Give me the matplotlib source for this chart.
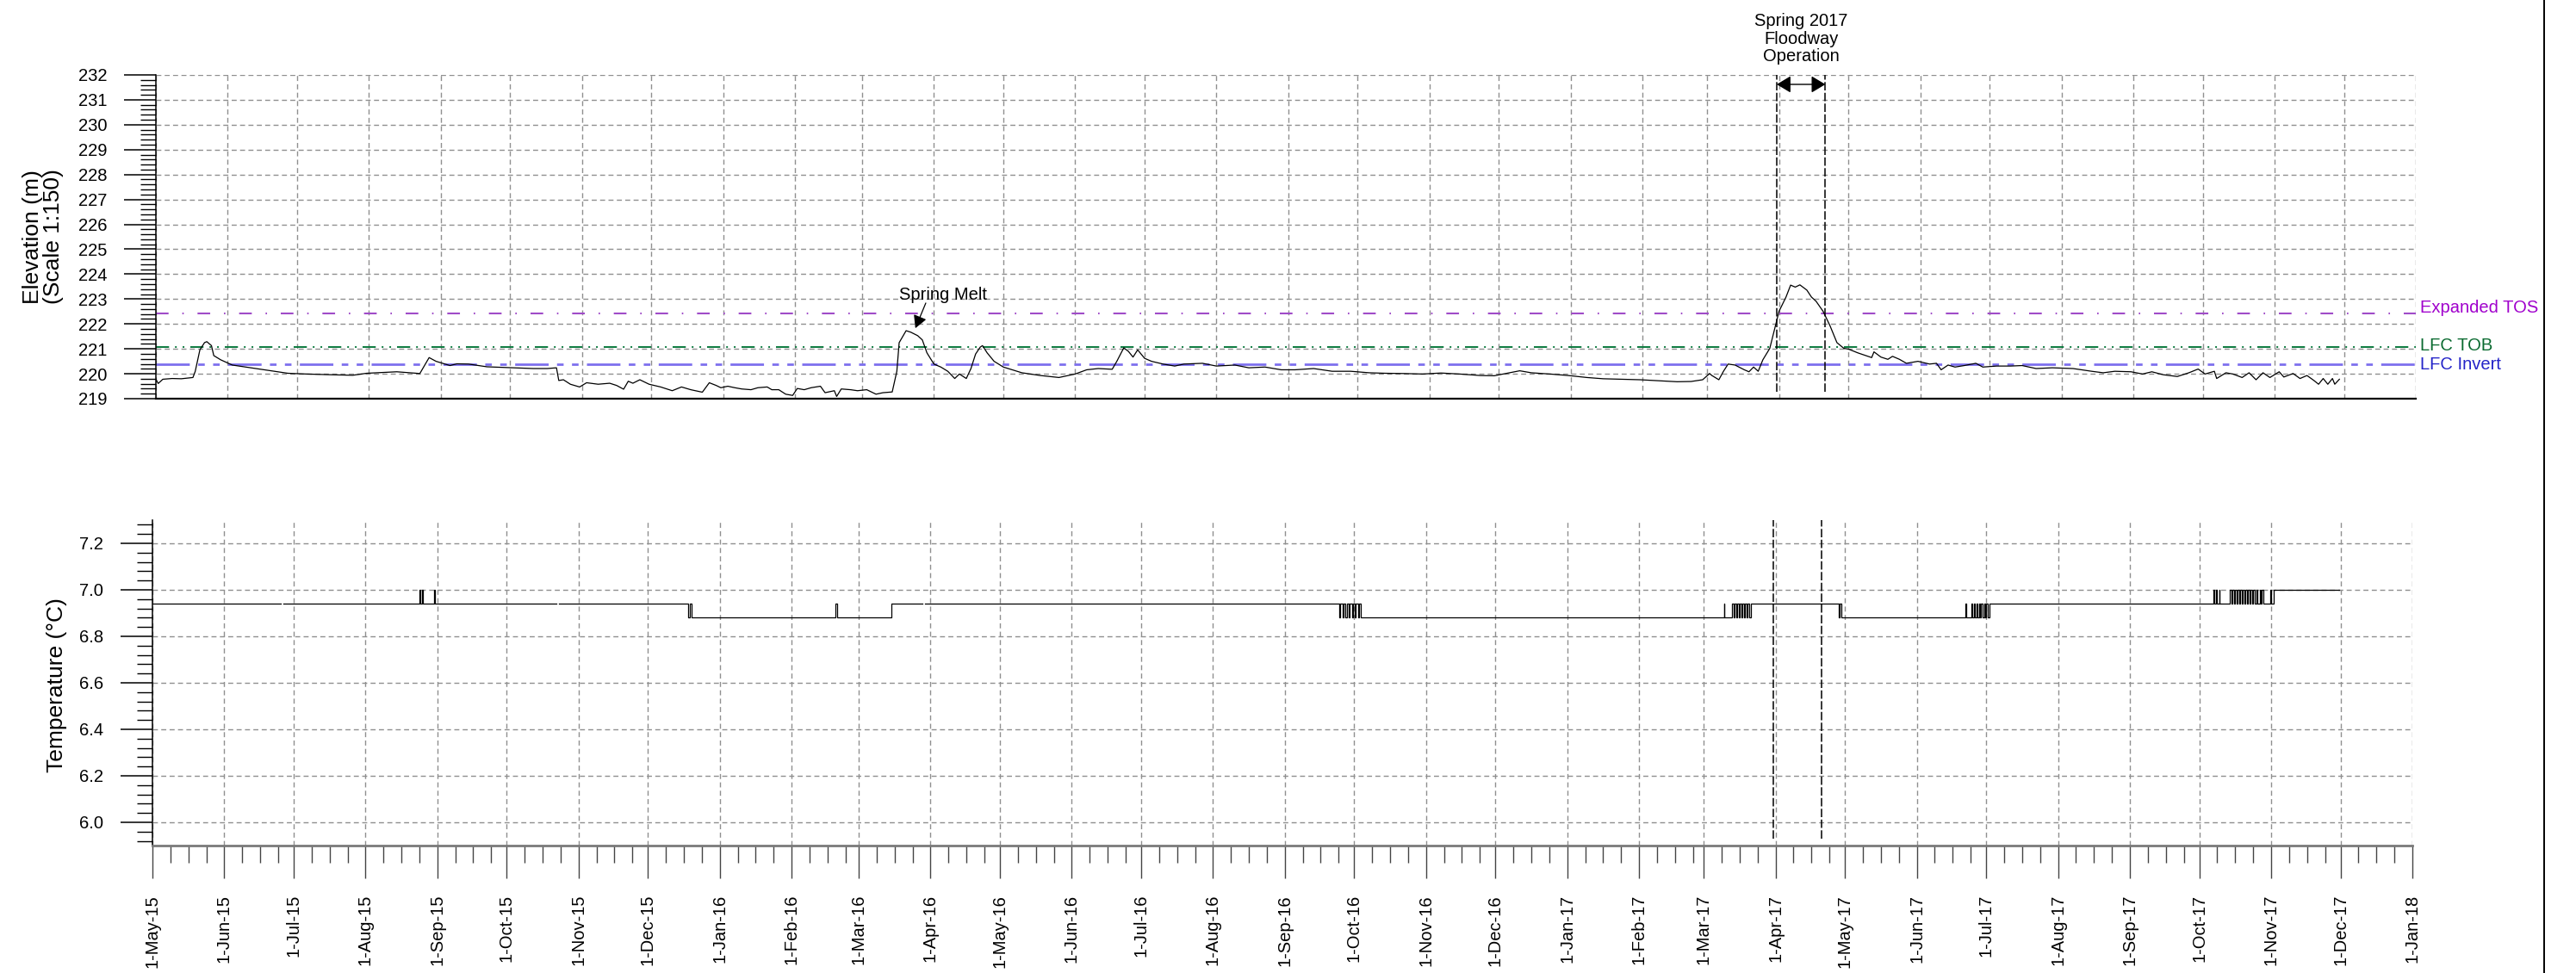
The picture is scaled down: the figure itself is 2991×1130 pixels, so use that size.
import matplotlib
matplotlib.use("Agg")
import matplotlib.pyplot as plt
import matplotlib.dates as mdates
from matplotlib.ticker import MultipleLocator, FixedLocator, FuncFormatter
from matplotlib.lines import Line2D
import numpy as np
import pandas as pd

plt.rcParams['font.family'] = ['Liberation Sans', 'DejaVu Sans']
plt.rcParams['lines.scale_dashes'] = False

# --- water level record (m) ---
elev_dates = [
    "2015-05-01", "2015-05-02", "2015-05-04", "2015-05-08", "2015-05-12", "2015-05-17", "2015-05-18",
    "2015-05-20", "2015-05-22", "2015-05-23", "2015-05-25", "2015-05-26", "2015-05-29", "2015-06-03",
    "2015-06-11", "2015-06-19", "2015-06-27", "2015-07-05", "2015-07-16", "2015-07-25", "2015-07-31",
    "2015-08-13", "2015-08-23", "2015-08-25", "2015-08-27", "2015-08-30", "2015-09-05", "2015-09-08",
    "2015-09-13", "2015-09-21", "2015-10-02", "2015-10-11", "2015-10-17", "2015-10-21", "2015-10-22",
    "2015-10-24", "2015-10-27", "2015-10-31", "2015-11-03", "2015-11-08", "2015-11-13", "2015-11-16",
    "2015-11-19", "2015-11-21", "2015-11-23", "2015-11-26", "2015-11-30", "2015-12-05", "2015-12-10",
    "2015-12-14", "2015-12-18", "2015-12-23", "2015-12-26", "2015-12-29", "2015-12-31", "2016-01-03",
    "2016-01-06", "2016-01-09", "2016-01-13", "2016-01-16", "2016-01-20", "2016-01-22", "2016-01-25",
    "2016-01-28", "2016-01-31", "2016-02-02", "2016-02-05", "2016-02-08", "2016-02-12", "2016-02-14",
    "2016-02-18", "2016-02-19", "2016-02-21", "2016-02-25", "2016-02-28", "2016-03-03", "2016-03-07",
    "2016-03-10", "2016-03-14", "2016-03-16", "2016-03-17", "2016-03-20", "2016-03-22", "2016-03-25",
    "2016-03-27", "2016-03-29", "2016-04-01", "2016-04-04", "2016-04-07", "2016-04-10", "2016-04-12",
    "2016-04-15", "2016-04-17", "2016-04-19", "2016-04-21", "2016-04-22", "2016-04-24", "2016-04-27",
    "2016-05-01", "2016-05-09", "2016-05-17", "2016-05-25", "2016-06-01", "2016-06-06", "2016-06-11",
    "2016-06-17", "2016-06-19", "2016-06-22", "2016-06-24", "2016-06-26", "2016-06-28", "2016-07-01",
    "2016-07-04", "2016-07-09", "2016-07-14", "2016-07-18", "2016-07-26", "2016-08-01", "2016-08-09",
    "2016-08-15", "2016-08-22", "2016-08-29", "2016-09-04", "2016-09-12", "2016-09-20", "2016-09-28",
    "2016-10-06", "2016-10-13", "2016-10-21", "2016-10-29", "2016-11-06", "2016-11-14", "2016-11-23",
    "2016-11-29", "2016-12-04", "2016-12-10", "2016-12-15", "2016-12-23", "2016-12-31", "2017-01-08",
    "2017-01-15", "2017-01-23", "2017-01-31", "2017-02-08", "2017-02-16", "2017-02-22", "2017-02-27",
    "2017-03-02", "2017-03-03", "2017-03-06", "2017-03-08", "2017-03-10", "2017-03-13", "2017-03-17",
    "2017-03-19", "2017-03-21", "2017-03-23", "2017-03-25", "2017-03-28", "2017-03-30", "2017-04-01",
    "2017-04-04", "2017-04-06", "2017-04-08", "2017-04-10", "2017-04-13", "2017-04-15", "2017-04-17",
    "2017-04-20", "2017-04-23", "2017-04-26", "2017-04-29", "2017-05-01", "2017-05-05", "2017-05-11",
    "2017-05-12", "2017-05-15", "2017-05-18", "2017-05-20", "2017-05-23", "2017-05-26", "2017-05-31",
    "2017-06-05", "2017-06-08", "2017-06-10", "2017-06-13", "2017-06-16", "2017-06-20", "2017-06-25",
    "2017-06-28", "2017-07-04", "2017-07-10", "2017-07-15", "2017-07-21", "2017-07-28", "2017-08-06",
    "2017-08-14", "2017-08-19", "2017-08-24", "2017-08-31", "2017-09-05", "2017-09-09", "2017-09-14",
    "2017-09-20", "2017-09-25", "2017-09-29", "2017-10-02", "2017-10-06", "2017-10-07", "2017-10-11",
    "2017-10-14", "2017-10-18", "2017-10-21", "2017-10-24", "2017-10-27", "2017-10-30", "2017-11-03",
    "2017-11-05", "2017-11-09", "2017-11-12", "2017-11-15", "2017-11-18", "2017-11-20", "2017-11-22",
    "2017-11-24", "2017-11-26", "2017-11-27", "2017-11-29",
]
elev_values = [
    219.78, 219.61, 219.78, 219.81, 219.80, 219.85, 220.10,
    220.96, 221.25, 221.29, 221.13, 220.73, 220.56, 220.35,
    220.24, 220.13, 220.02, 219.99, 219.96, 219.94, 220.02,
    220.08, 220.01, 220.33, 220.65, 220.50, 220.33, 220.40,
    220.39, 220.28, 220.24, 220.21, 220.21, 220.24, 219.73,
    219.76, 219.58, 219.47, 219.64, 219.58, 219.62, 219.53,
    219.38, 219.70, 219.62, 219.76, 219.58, 219.47, 219.32,
    219.47, 219.36, 219.26, 219.64, 219.53, 219.44, 219.50,
    219.44, 219.39, 219.36, 219.44, 219.47, 219.36, 219.36,
    219.18, 219.13, 219.41, 219.36, 219.44, 219.50, 219.24,
    219.32, 219.09, 219.39, 219.36, 219.32, 219.36, 219.18,
    219.24, 219.27, 220.10, 221.25, 221.73, 221.67, 221.53,
    221.36, 220.84, 220.39, 220.27, 220.10, 219.81, 219.99,
    219.81, 220.21, 220.79, 221.07, 221.13, 220.84, 220.50,
    220.27, 220.04, 219.93, 219.85, 219.99, 220.16, 220.21,
    220.18, 220.50, 221.04, 220.90, 220.67, 220.96, 220.62,
    220.50, 220.39, 220.31, 220.39, 220.42, 220.31, 220.35,
    220.24, 220.27, 220.16, 220.16, 220.21, 220.10, 220.10,
    220.04, 220.02, 220.01, 219.99, 220.03, 219.99, 219.93,
    219.92, 220.01, 220.12, 220.04, 219.99, 219.93, 219.85,
    219.80, 219.78, 219.76, 219.72, 219.68, 219.69, 219.76,
    220.01, 219.93, 219.76, 220.10, 220.39, 220.35, 220.16,
    220.08, 220.27, 220.10, 220.56, 221.02, 221.76, 222.51,
    223.08, 223.56, 223.48, 223.57, 223.36, 223.08, 222.91,
    222.51, 221.93, 221.25, 221.02, 220.99, 220.84, 220.65,
    220.88, 220.67, 220.58, 220.70, 220.58, 220.42, 220.50,
    220.39, 220.42, 220.16, 220.35, 220.27, 220.33, 220.42,
    220.27, 220.31, 220.31, 220.33, 220.21, 220.24, 220.21,
    220.10, 220.04, 220.10, 220.08, 219.99, 220.08, 219.96,
    219.89, 220.04, 220.19, 219.99, 220.10, 219.81, 220.04,
    219.99, 219.85, 220.04, 219.76, 220.04, 219.85, 220.08,
    219.87, 220.01, 219.81, 219.93, 219.73, 219.58, 219.81,
    219.58, 219.81, 219.58, 219.78,
]

# --- temperature record (degC), value holds from each time until the next ---
temp_dates = [
    "2015-05-01 00:00", "2015-06-25 12:00", "2015-06-26 12:00", "2015-08-24 10:00", "2015-08-24 20:00",
    "2015-08-25 06:00", "2015-08-25 16:00", "2015-08-30 12:00", "2015-08-31 00:00", "2015-10-22 12:00",
    "2015-10-23 12:00", "2015-12-18 06:00", "2015-12-19 06:00", "2015-12-20 00:00", "2016-02-20 00:00",
    "2016-02-20 18:00", "2016-03-15 00:00", "2016-03-28 12:00", "2016-03-29 12:00", "2016-09-24 12:00",
    "2016-09-25 00:00", "2016-09-26 00:00", "2016-09-26 12:00", "2016-09-27 06:00", "2016-09-27 18:00",
    "2016-09-28 12:00", "2016-09-29 00:00", "2016-09-30 00:00", "2016-09-30 12:00", "2016-10-01 06:00",
    "2016-10-01 18:00", "2016-10-02 18:00", "2016-10-03 06:00", "2016-10-03 18:00", "2017-03-09 16:00",
    "2017-03-09 20:00", "2017-03-13 06:00", "2017-03-13 18:00", "2017-03-14 06:00", "2017-03-15 00:00",
    "2017-03-15 12:00", "2017-03-16 00:00", "2017-03-16 12:00", "2017-03-17 06:00", "2017-03-17 18:00",
    "2017-03-18 06:00", "2017-03-18 18:00", "2017-03-19 12:00", "2017-03-20 00:00", "2017-03-20 12:00",
    "2017-03-21 06:00", "2017-04-28 08:00", "2017-04-28 18:00", "2017-04-29 12:00", "2017-06-22 00:00",
    "2017-06-22 06:00", "2017-06-24 12:00", "2017-06-25 00:00", "2017-06-25 12:00", "2017-06-26 00:00",
    "2017-06-26 18:00", "2017-06-27 06:00", "2017-06-27 18:00", "2017-06-28 06:00", "2017-06-28 18:00",
    "2017-06-29 12:00", "2017-06-30 00:00", "2017-06-30 12:00", "2017-07-01 00:00", "2017-07-01 12:00",
    "2017-07-02 06:00", "2017-10-07 06:00", "2017-10-07 12:00", "2017-10-08 06:00", "2017-10-08 12:00",
    "2017-10-09 12:00", "2017-10-09 18:00", "2017-10-14 06:00", "2017-10-14 18:00", "2017-10-15 06:00",
    "2017-10-16 00:00", "2017-10-16 12:00", "2017-10-17 00:00", "2017-10-17 12:00", "2017-10-18 06:00",
    "2017-10-18 18:00", "2017-10-19 06:00", "2017-10-19 18:00", "2017-10-20 12:00", "2017-10-21 00:00",
    "2017-10-21 12:00", "2017-10-22 00:00", "2017-10-22 18:00", "2017-10-23 06:00", "2017-10-23 18:00",
    "2017-10-24 06:00", "2017-10-25 00:00", "2017-10-25 12:00", "2017-10-26 00:00", "2017-10-27 00:00",
    "2017-10-27 12:00", "2017-10-28 00:00", "2017-10-28 12:00", "2017-10-31 12:00", "2017-11-01 00:00",
    "2017-11-02 06:00", "2017-11-30 12:00",
]
temp_values = [
    6.94, np.nan, 6.94, 7.00, 6.94,
    7.00, 6.94, 7.00, 6.94, np.nan,
    6.94, 6.88, 6.94, 6.88, 6.94,
    6.88, 6.94, np.nan, 6.94, 6.88,
    6.94, 6.88, 6.94, 6.88, 6.94,
    6.88, 6.94, 6.88, 6.94, 6.88,
    6.94, 6.88, 6.94, 6.88, 6.94,
    6.88, 6.94, 6.88, 6.94, 6.88,
    6.94, 6.88, 6.94, 6.88, 6.94,
    6.88, 6.94, 6.88, 6.94, 6.88,
    6.94, 6.88, 6.94, 6.88, 6.94,
    6.88, 6.94, 6.88, 6.94, 6.88,
    6.94, 6.88, 6.94, 6.88, 6.94,
    6.88, 6.94, 6.88, 6.94, 6.88,
    6.94, 7.00, 6.94, 7.00, 6.94,
    7.00, 6.94, 7.00, 6.94, 7.00,
    6.94, 7.00, 6.94, 7.00, 6.94,
    7.00, 6.94, 7.00, 6.94, 7.00,
    6.94, 7.00, 6.94, 7.00, 6.94,
    7.00, 6.94, 7.00, 6.94, 7.00,
    6.94, 7.00, 6.94, 7.00, 6.94,
    7.00, 7.00,
]

# design levels drawn across the elevation panel
ref_names = ["Expanded TOS", "LFC TOB", "LFC Invert"]
ref_levels = [222.44, 221.08, 220.39]
ref_line_colors = ["#a04cc8", "#0b7a3e", "#7d70ee"]
ref_text_colors = ["#a000cc", "#0a6a30", "#2424c8"]
ref_text_y = [222.66, 221.12, 220.36]

floodway_start = "2017-03-31"
floodway_end = "2017-04-21"
melt_peak = ("2016-03-24", 221.83)

x_start, x_end = "2015-05-01", "2018-01-01"

elev_t = pd.to_datetime(elev_dates)
temp_t = pd.to_datetime(temp_dates)

fig = plt.figure(figsize=(29.91, 11.30), dpi=100)
ax1 = fig.add_axes([181 / 2991, 1 - 463 / 1130, (2805 - 181) / 2991, (463 - 87) / 1130])
ax2 = fig.add_axes([177 / 2991, 1 - 982 / 1130, (2801 - 177) / 2991, (982 - 604) / 1130])

grid_kw = dict(color="#8f8f8f", linewidth=1.0, dashes=(4.2, 2.8))
months = pd.date_range(x_start, "2017-12-01", freq="MS")
minor_x = [mdates.date2num(m + pd.Timedelta(days=7.75 * k)) for m in months for k in (1, 2, 3)]

for ax in (ax1, ax2):
    ax.set_xlim(pd.Timestamp(x_start), pd.Timestamp(x_end))
    ax.xaxis.set_major_locator(mdates.MonthLocator())
    ax.grid(True, which="major", **grid_kw)
    ax.set_axisbelow(True)
    ax.spines["top"].set_visible(False)
    ax.spines["right"].set_visible(False)
    ax.spines["left"].set_linewidth(1.1)
    ax.tick_params(axis="y", which="major", length=27, width=1.1, pad=14, labelsize=14.5)
    ax.tick_params(axis="y", which="minor", length=13, width=1.0)

# --- elevation panel ---
ax1.plot(elev_t, elev_values, color="black", linewidth=0.9, zorder=3)
ax1.set_ylim(219, 232)
ax1.yaxis.set_major_locator(MultipleLocator(1))
ax1.yaxis.set_minor_locator(MultipleLocator(0.2))
ax1.tick_params(axis="x", which="both", length=0, labelbottom=False)
ax1.spines["bottom"].set_linewidth(1.6)

ref_dashes = [(10.6, 11.5, 1.2, 11.5), (11, 5, 1.4, 5, 1.4, 5), (28, 7, 5.5, 7, 5.5, 7)]
ref_widths = [1.5, 1.4, 2.0]
for name, lvl, lc, tc, ty, ds, lw in zip(ref_names, ref_levels, ref_line_colors,
                                          ref_text_colors, ref_text_y, ref_dashes, ref_widths):
    ax1.axhline(lvl, color=lc, linewidth=lw, dashes=ds, zorder=2)
    ax1.text(1.002, ty, name, color=tc, fontsize=14.5, va="center", ha="left",
             transform=ax1.get_yaxis_transform(), clip_on=False)

ax1.text(pd.Timestamp("2016-04-05"), 223.18, "Spring Melt", fontsize=14.5, ha="center", va="center")
ax1.annotate("", xy=(pd.Timestamp(melt_peak[0]), melt_peak[1]),
             xytext=(pd.Timestamp("2016-03-28 12:00"), 222.84),
             arrowprops=dict(arrowstyle="-|>,head_length=0.55,head_width=0.3", color="black",
                             lw=0.9, mutation_scale=16, shrinkA=0, shrinkB=0))

# floodway operation window
fw = [pd.Timestamp(floodway_start), pd.Timestamp(floodway_end)]
for t in fw:
    ax1.axvline(t, ymin=0.02, ymax=1.0, color="black", linewidth=1.1, dashes=(7, 2), zorder=4)
    ax2.axvline(t, ymin=0.02, ymax=1.0, color="black", linewidth=1.1, dashes=(7, 2), zorder=4)
ax1.annotate("", xy=(fw[0], 231.62), xytext=(fw[1], 231.62),
             arrowprops=dict(arrowstyle="<|-|>,head_length=0.5,head_width=0.3", color="black",
                             lw=1.0, mutation_scale=20, shrinkA=0, shrinkB=0), annotation_clip=False)
ax1.text(fw[0] + (fw[1] - fw[0]) / 2, 233.45, "Spring 2017\nFloodway\nOperation", fontsize=14.5,
         ha="center", va="center", linespacing=1.1, clip_on=False)

# --- temperature panel ---
ax2.plot(temp_t, temp_values, color="black", linewidth=0.9, drawstyle="steps-post", zorder=3)
ax2.set_ylim(5.9, 7.3)
ax2.yaxis.set_major_locator(FixedLocator([6.0, 6.2, 6.4, 6.6, 6.8, 7.0, 7.2]))
ax2.yaxis.set_minor_locator(FixedLocator(np.arange(5.92, 7.30, 0.04)))
ax2.yaxis.set_major_formatter(FuncFormatter(lambda v, p: f"{v:.1f}"))
ax2.xaxis.set_minor_locator(FixedLocator(minor_x))
ax2.xaxis.set_major_formatter(FuncFormatter(
    lambda x, p: f"{mdates.num2date(x).day}-{mdates.num2date(x):%b-%y}"))
ax2.tick_params(axis="x", which="major", length=27, width=1.0, pad=14, labelsize=14.5,
                labelrotation=90, color="#444444")
ax2.tick_params(axis="x", which="minor", length=14.5, width=1.0, color="#444444")
ax2.spines["bottom"].set_color("#7a7a7a")
ax2.spines["bottom"].set_linewidth(2.0)

fig.text(50 / 2991, 1 - 275 / 1130, "Elevation (m)\n(Scale 1:150)", rotation=90, fontsize=19,
         ha="center", va="center", multialignment="center", linespacing=1.05)
fig.text(66 / 2991, 1 - 796 / 1130, "Temperature (\u00b0C)", rotation=90, fontsize=19,
         ha="center", va="center")

fig.add_artist(Line2D([2954 / 2991] * 2, [0, 1], transform=fig.transFigure, color="black", linewidth=1.4))

fig.savefig("out.png", dpi=100, facecolor="white")
